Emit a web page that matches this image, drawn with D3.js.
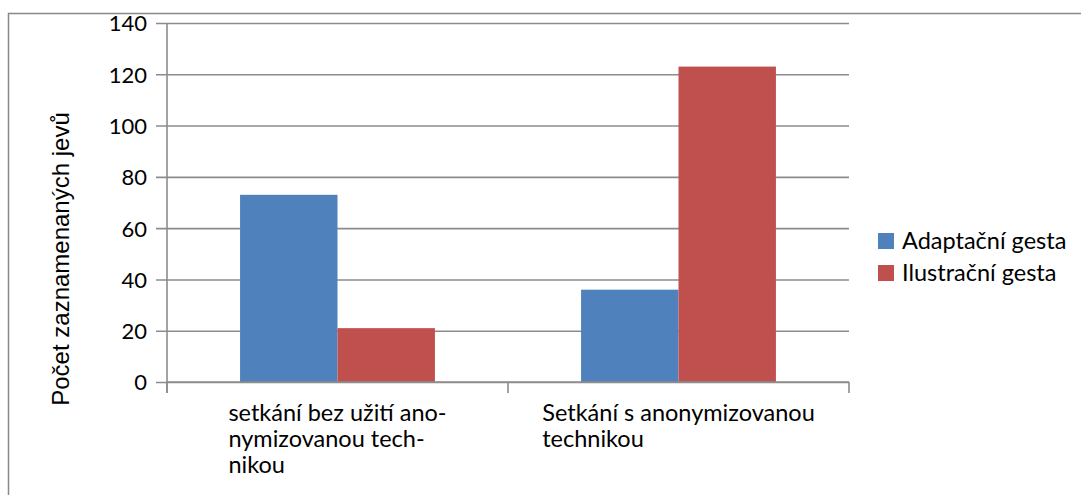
<!DOCTYPE html>
<html>
<head>
	<meta http-equiv="Content-Type" content="text/html; charset=utf-8">
	<title>Gesta</title>
	<script src="https://d3js.org/d3.v7.min.js"></script>
	<style>
		body { margin: 0; background: #fff; }
		text { font-family: 'Lato', 'Open Sans', sans-serif; fill: #000; }
		text.ytitle { font-family: 'Liberation Sans', Arial, sans-serif; }
	</style>
</head>
<body>
<script>
	// data
	var categories = [
		["setkání bez užití ano-", "nymizovanou tech-", "nikou"],
		["Setkání s anonymizovanou", "technikou"]
	];
	var series = ["Adaptační gesta", "Ilustrační gesta"];
	var adaptacni = [73, 36];
	var ilustracni = [21, 123];
	var yTicks = [0, 20, 40, 60, 80, 100, 120, 140];
	var colors = ["#4f81bd", "#c0504d"];

	var values = [adaptacni, ilustracni];
	var W = 1081, H = 495;
	var margin = {top: 23, right: 232, bottom: 113, left: 167};

	var svg = d3.select("body").append("svg")
			.attr("width", W)
			.attr("height", H);

	// outer frame (runs off the right and bottom edge)
	svg.append("rect")
			.attr("x", 8.5).attr("y", 13.5)
			.attr("width", W).attr("height", H)
			.style("fill", "none")
			.style("stroke", "#898989")
			.style("stroke-width", 1.5);

	var x0 = d3.scaleBand()
			.domain(d3.range(categories.length))
			.range([margin.left, W - margin.right]);

	// excel style: gap width 150% of a bar
	var bw = x0.bandwidth(), barW = bw / 3.5;
	var x1 = d3.scaleBand()
			.domain(series)
			.range([barW * 0.75, bw - barW * 0.75]);

	var y = d3.scaleLinear()
			.domain([0, 140])
			.range([H - margin.bottom, margin.top]);

	// gridlines + y axis
	var yAxis = svg.append("g")
			.attr("transform", "translate(" + margin.left + ",0)")
			.call(d3.axisLeft(y)
				.tickValues(yTicks)
				.tickSize(-(W - margin.left - margin.right))
				.tickSizeOuter(0)
				.tickPadding(20));
	yAxis.select(".domain").remove();
	yAxis.selectAll(".tick line")
			.attr("x1", -11)
			.style("stroke", "#8c8c8c")
			.style("stroke-width", 1.6);
	yAxis.selectAll(".tick text")
			.style("font-size", "22px")
			.attr("dy", "0.36em");

	// bars
	var bars = svg.append("g");
	series.forEach(function(s, si) {
		bars.selectAll(".bar-" + si)
				.data(values[si])
				.enter()
				.append("rect")
				.attr("class", "bar-" + si)
				.attr("x", function(d, i) { return x0(i) + x1(s); })
				.attr("y", function(d) { return y(d); })
				.attr("width", x1.bandwidth())
				.attr("height", function(d) { return y(0) - y(d); })
				.style("fill", colors[si]);
	});

	// vertical axis line and category ticks
	var gx = svg.append("g").style("stroke", "#8c8c8c").style("stroke-width", 1.6);
	gx.append("line")
			.attr("x1", margin.left).attr("x2", margin.left)
			.attr("y1", y(140)).attr("y2", y(0) + 11);
	gx.append("line")
			.attr("x1", margin.left).attr("x2", W - margin.right)
			.attr("y1", y(0)).attr("y2", y(0));
	var edges = x0.domain().map(function(i) { return x0(i); }).concat([W - margin.right]);
	gx.selectAll(".ctick")
			.data(edges)
			.enter()
			.append("line")
			.attr("x1", function(d) { return d; }).attr("x2", function(d) { return d; })
			.attr("y1", y(0)).attr("y2", y(0) + 11);

	// category labels: block centred, lines left aligned
	categories.forEach(function(lines, ci) {
		var t = svg.append("text")
				.style("font-size", "23.5px");
		t.selectAll("tspan")
				.data(lines)
				.enter()
				.append("tspan")
				.attr("y", function(d, i) { return y(0) + 39 + i * 26; })
				.text(function(d) { return d; });
		var widest = d3.max(t.selectAll("tspan").nodes(), function(n) { return n.getComputedTextLength(); });
		t.selectAll("tspan").attr("x", x0(ci) + bw / 2 - widest / 2);
	});

	// y axis title
	svg.append("text")
			.attr("class", "ytitle")
			.attr("transform", "translate(69," + 259 + ") rotate(-90)")
			.attr("text-anchor", "middle")
			.style("font-size", "24px")
			.text("Počet zaznamenaných jevů");

	// legend
	var legend = svg.append("g")
			.attr("transform", "translate(878,233)");
	var li = legend.selectAll("g")
			.data(series)
			.enter()
			.append("g")
			.attr("transform", function(d, i) { return "translate(0," + (i * 32) + ")"; });
	li.append("rect")
			.attr("width", 16).attr("height", 16)
			.style("fill", function(d, i) { return colors[i]; });
	li.append("text")
			.attr("x", 24).attr("y", 8)
			.attr("dy", "0.36em")
			.style("font-size", "23.5px")
			.text(function(d) { return d; });
</script>
</body>
</html>
